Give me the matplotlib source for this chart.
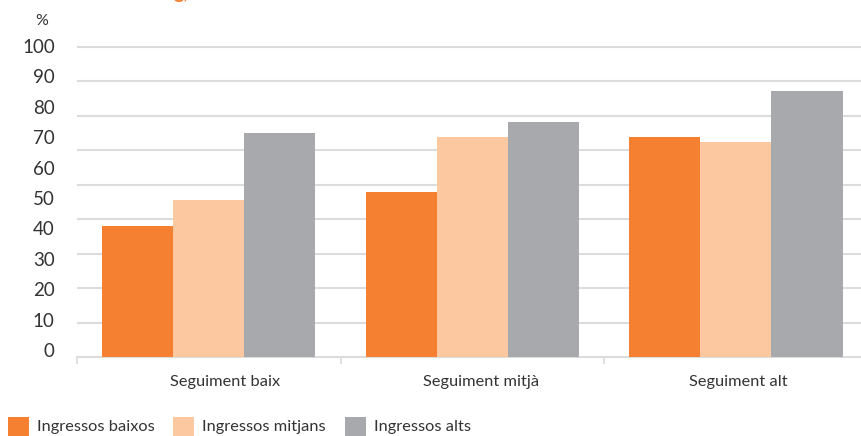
import numpy as np
import matplotlib
matplotlib.use('Agg')
import matplotlib.pyplot as plt
from matplotlib.patches import Rectangle

plt.rcParams['font.family'] = ['Lato', 'DejaVu Sans']

groups = ['Seguiment baix', 'Seguiment mitjà', 'Seguiment alt']
series = ['Ingressos baixos', 'Ingressos mitjans', 'Ingressos alts']
baixos = [42.1, 53.1, 71.1]
mitjans = [50.5, 71.1, 69.5]
alts = [72.3, 75.9, 85.9]
ytick_labels = ['0', '10', '20', '30', '40', '50', '60', '70', '80', '90', '100']

colors = ['#F58031', '#FCC8A0', '#A8A9AC']
txt = '#333333'
grid_c = '#DCDCDC'

W, H = 862, 436
fig = plt.figure(figsize=(W / 100, H / 100), dpi=100)
ax = fig.add_axes([77 / W, 79 / H, 1 - 77 / W, (357 - 46) / H])

x = np.arange(len(groups))
bw = 0.27
for i, vals in enumerate([baixos, mitjans, alts]):
    ax.bar(x + (i - 1) * bw, vals, bw, color=colors[i], zorder=3, linewidth=0)

# gridlines (the original has 9 gaps between baseline and top)
for g in np.linspace(0, 100, 10)[1:]:
    ax.axhline(g, color=grid_c, lw=1.5, zorder=1)

ax.set_ylim(0, 100)
ax.set_xlim(-0.5, 2.479)

# y labels sit a bit off the gridlines, as in the source
ax.set_yticks(np.linspace(2.25, 100.3, len(ytick_labels)))
ax.set_yticklabels(ytick_labels, fontsize=13.5, color=txt)
ax.tick_params(axis='y', length=0, pad=16)

# category labels are slightly shifted from the group centres in the source
ax.set_xticks(x + np.array([0.06, 0.033, 0.008]))
ax.set_xticklabels(groups, fontsize=11.8, color=txt)
ax.set_xticks([-0.5, 0.5, 1.5], minor=True)
ax.tick_params(axis='x', which='major', length=0, pad=13)
ax.tick_params(axis='x', which='minor', length=5, width=1.2, color=grid_c, direction='out')

for s in ['top', 'right', 'left']:
    ax.spines[s].set_visible(False)
ax.spines['bottom'].set_color(grid_c)
ax.spines['bottom'].set_linewidth(1.5)
ax.set_facecolor('none')

fig.text(42 / W, 1 - 21 / H, '%', fontsize=11.5, color=txt, ha='center', va='center')
# title sits mostly above the frame, only its descenders show
fig.text(174 / W, 1 + 1 / H, 'g,', fontsize=14, color='#F58031', fontweight='bold', ha='left', va='baseline')

# legend
leg_x = [8, 173, 345]
for i, name in enumerate(series):
    fig.patches.append(Rectangle((leg_x[i] / W, 0), 21 / W, 19 / H, transform=fig.transFigure,
                                 color=colors[i], linewidth=0))
    fig.text((leg_x[i] + 29) / W, 1 - 427 / H, name, fontsize=11.8, color=txt, ha='left', va='center')

fig.savefig('out.png', dpi=100)
